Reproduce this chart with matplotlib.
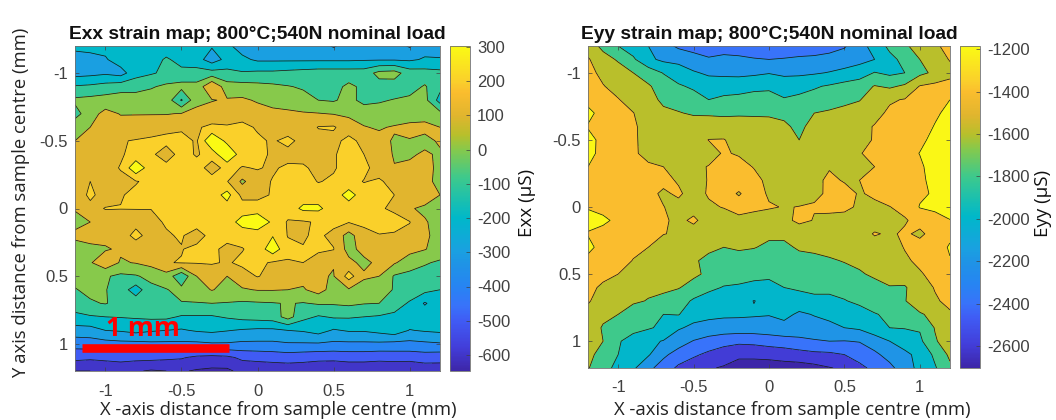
import numpy as np
import matplotlib
matplotlib.use('Agg')
import matplotlib.pyplot as plt
from matplotlib.cm import ScalarMappable
from matplotlib.colors import LinearSegmentedColormap, Normalize

# Posiciones de la malla (mm)
x_mm = [-1.2, -1.1, -1.0, -0.9, -0.8, -0.7, -0.6, -0.5, -0.4, -0.3, -0.2, -0.1, 0.0,
        0.1, 0.2, 0.3, 0.4, 0.5, 0.6, 0.7, 0.8, 0.9, 1.0, 1.1, 1.2]
y_mm = x_mm

exx = [
    [-170,-170,-170,-110,-160,-180,-190,-180,-180,-190,-180,-240,-240,-240,-250,-250,-260,-310,-260,-240,-240,-260,-310,-240,-230],
    [-250,-230,-210,-150,-160,-170,-80,-150,-160,-250,-170,-180,-215,-215,-215,-215,-215,-215,-215,-210,-210,-210,-215,-190,-195],
    [-240,-230,-215,-240,-140,-110,-80,-60,-60,-60,-70,-90,-80,-80,-70,-60,-50,-50,-50,-50,30,40,-50,-60,-70],
    [-90,-80,-60,-40,-30,-10,20,30,30,200,40,40,30,20,5,-10,-20,-30,20,-20,-40,-50,-40,10,-70],
    [20,30,40,50,40,50,60,-110,70,95,110,115,90,60,50,30,0,-10,30,-30,-10,5,20,30,-140],
    [-40,60,130,95,95,95,95,105,130,140,150,160,140,130,120,110,105,95,80,60,40,30,50,70,30],
    [70,100,130,140,150,160,170,185,190,220,210,225,190,170,150,140,205,210,150,105,90,110,125,120,100],
    [100,130,150,195,205,215,230,230,190,400,270,260,215,190,225,170,160,170,230,170,130,90,95,80,110],
    [130,150,170,190,230,220,150,240,190,240,400,240,220,190,170,150,140,190,240,200,160,90,90,110,90],
    [115,140,170,205,380,240,235,230,240,160,230,195,205,190,215,220,160,190,240,230,150,105,115,120,85],
    [120,200,150,180,195,220,240,240,240,240,205,80,170,205,230,240,195,215,240,195,215,160,140,110,90],
    [125,225,150,195,215,250,250,250,250,240,340,170,170,210,240,250,250,250,340,250,230,200,155,130,100],
    [105,165,205,202,202,202,230,250,250,250,250,250,250,250,250,320,320,250,250,250,210,185,105,90,80],
    [80,100,140,160,170,175,210,230,250,250,250,340,380,280,190,190,210,230,205,220,240,230,205,105,80],
    [115,130,130,150,230,160,190,210,150,240,240,240,240,295,195,190,220,170,60,170,195,190,160,110,80],
    [70,80,90,115,140,150,170,195,230,225,170,195,240,360,230,205,215,205,60,140,150,140,130,105,60],
    [60,90,170,90,105,130,195,205,205,210,190,220,220,190,190,200,160,105,130,70,130,110,50,10,-15],
    [30,30,10,-20,-10,30,60,-80,100,130,100,160,205,170,140,130,110,95,240,120,100,-10,-30,-40,-50],
    [-5,20,5,-50,-150,-30,-5,30,60,105,70,90,105,105,100,90,140,60,90,40,30,-5,-50,-70,-100],
    [-40,-10,5,-30,-40,-15,-5,-5,-5,0,-5,-15,-10,-5,5,-5,10,10,20,5,0,-60,-110,-210,-140],
    [-130,-110,-100,-95,-90,-80,-80,-110,-110,-110,-90,-70,-60,-50,40,-70,-110,-90,-90,-100,-110,-120,-130,-140,-150],
    [-240,-240,-200,-190,-170,-190,-200,-210,-190,-180,-195,-210,-220,-220,-200,-190,-160,-210,-190,-190,-170,-140,-205,-190,-180],
    [-360,-350,-340,-330,-330,-320,-320,-320,-320,-310,-310,-320,-320,-320,-310,-310,-310,-320,-320,-320,-320,-330,-330,-320,-310],
    [-470,-480,-470,-460,-470,-470,-480,-490,-520,-530,-520,-480,-470,-460,-450,-460,-470,-470,-460,-460,-470,-460,-460,-450,-460],
    [-600,-600,-590,-580,-590,-610,-600,-590,-610,-620,-620,-570,-570,-570,-570,-570,-580,-590,-580,-580,-580,-590,-600,-570,-560],
]

eyy = [
    [-1500,-1650,-1800,-1900,-2000,-2120,-2240,-2280,-2300,-2290,-2280,-2290,-2300,-2300,-2310,-2300,-2280,-2220,-2070,-1930,-1750,-1630,-1520,-1430,-1340],
    [-1380,-1530,-1620,-1770,-1960,-2040,-2040,-2120,-2180,-2150,-2170,-2190,-2200,-2190,-2170,-2160,-2130,-2100,-2060,-2000,-1860,-1740,-1600,-1480,-1390],
    [-1340,-1450,-1520,-1600,-1690,-1810,-1930,-1980,-2030,-2050,-2060,-2040,-2010,-2050,-2040,-2020,-1990,-1950,-1900,-1790,-1840,-1800,-1650,-1560,-1450],
    [-1300,-1390,-1470,-1530,-1580,-1680,-1770,-1840,-1900,-1870,-1860,-1840,-1830,-1860,-1860,-1820,-1780,-1730,-1690,-1590,-1630,-1570,-1390,-1350,-1340],
    [-1290,-1340,-1390,-1480,-1530,-1640,-1670,-1700,-1800,-1770,-1760,-1740,-1740,-1790,-1760,-1730,-1700,-1650,-1610,-1500,-1420,-1390,-1320,-1280,-1200],
    [-1120,-1310,-1340,-1395,-1500,-1560,-1590,-1620,-1620,-1625,-1620,-1620,-1620,-1640,-1650,-1600,-1570,-1540,-1510,-1450,-1370,-1320,-1280,-1230,-1150],
    [-1220,-1310,-1340,-1370,-1480,-1500,-1510,-1510,-1520,-1530,-1530,-1540,-1550,-1570,-1640,-1540,-1500,-1490,-1450,-1390,-1330,-1300,-1280,-1190,-1100],
    [-1110,-1280,-1320,-1370,-1470,-1480,-1490,-1480,-1395,-1390,-1480,-1510,-1530,-1560,-1600,-1530,-1500,-1480,-1440,-1390,-1320,-1290,-1240,-1150,-1090],
    [-1100,-1300,-1330,-1380,-1440,-1470,-1480,-1470,-1480,-1380,-1420,-1490,-1510,-1530,-1540,-1520,-1490,-1460,-1410,-1350,-1310,-1270,-1195,-1110,-1080],
    [-1200,-1300,-1320,-1340,-1380,-1400,-1470,-1450,-1390,-1350,-1330,-1410,-1480,-1500,-1510,-1490,-1420,-1460,-1440,-1400,-1300,-1270,-1230,-1120,-1080],
    [-1290,-1300,-1310,-1320,-1340,-1350,-1420,-1470,-1390,-1300,-1290,-1340,-1450,-1480,-1490,-1470,-1350,-1420,-1400,-1330,-1300,-1280,-1240,-1140,-1090],
    [-1310,-1320,-1330,-1340,-1350,-1430,-1370,-1480,-1380,-1310,-1420,-1290,-1430,-1460,-1480,-1420,-1385,-1320,-1420,-1360,-1310,-1270,-1230,-1180,-1100],
    [-1220,-1310,-1320,-1330,-1350,-1395,-1460,-1480,-1430,-1390,-1300,-1350,-1380,-1410,-1395,-1390,-1330,-1340,-1440,-1450,-1405,-1340,-1190,-1150,-1130],
    [-1110,-1130,-1280,-1320,-1350,-1370,-1450,-1360,-1500,-1500,-1470,-1490,-1510,-1460,-1350,-1410,-1480,-1500,-1530,-1520,-1480,-1420,-1330,-1290,-1205],
    [-1220,-1320,-1330,-1350,-1370,-1395,-1420,-1500,-1540,-1540,-1540,-1560,-1560,-1550,-1540,-1530,-1520,-1510,-1510,-1380,-1430,-1370,-1440,-1320,-1240],
    [-1100,-1340,-1350,-1370,-1400,-1480,-1560,-1570,-1550,-1600,-1570,-1590,-1640,-1650,-1570,-1550,-1540,-1530,-1520,-1510,-1480,-1390,-1320,-1290,-1180],
    [-1300,-1340,-1350,-1405,-1470,-1510,-1540,-1570,-1660,-1680,-1690,-1700,-1700,-1690,-1680,-1660,-1620,-1590,-1560,-1540,-1500,-1430,-1360,-1320,-1210],
    [-1330,-1370,-1400,-1470,-1520,-1560,-1580,-1570,-1630,-1720,-1740,-1770,-1780,-1770,-1750,-1730,-1700,-1660,-1620,-1570,-1530,-1490,-1420,-1340,-1300],
    [-1370,-1420,-1480,-1520,-1560,-1570,-1590,-1660,-1760,-1810,-1820,-1830,-1830,-1800,-1770,-1790,-1760,-1730,-1700,-1660,-1610,-1620,-1480,-1390,-1340],
    [-1385,-1470,-1540,-1570,-1610,-1640,-1700,-1830,-1880,-1900,-1920,-2005,-1950,-1920,-1890,-1810,-1840,-1810,-1760,-1720,-1680,-1610,-1490,-1420,-1360],
    [-1450,-1550,-1600,-1700,-1750,-1800,-1790,-1930,-1960,-1970,-1970,-1980,-1990,-1950,-2030,-1990,-1970,-1930,-1880,-1810,-1770,-1700,-1620,-1550,-1420],
    [-1480,-1620,-1680,-1740,-1780,-1840,-1980,-2040,-2060,-2080,-2090,-2090,-2090,-2060,-2080,-2070,-2030,-2000,-1970,-1880,-1800,-1790,-1780,-1590,-1450],
    [-1520,-1600,-1780,-1880,-1960,-2010,-2110,-2210,-2280,-2330,-2350,-2340,-2300,-2280,-2250,-2220,-2200,-2205,-2190,-2100,-2000,-1920,-1840,-1620,-1500],
    [-1550,-1670,-1800,-1950,-1980,-2160,-2280,-2370,-2440,-2500,-2570,-2560,-2550,-2520,-2480,-2450,-2440,-2400,-2320,-2240,-2130,-2040,-1950,-1760,-1560],
    [-1590,-1700,-1880,-1970,-2150,-2290,-2440,-2510,-2580,-2620,-2660,-2680,-2680,-2680,-2690,-2660,-2610,-2570,-2450,-2350,-2250,-2100,-1940,-1820,-1640],
]

exx_levels = [-600, -500, -400, -300, -200, -100, 0, 100, 200, 300]
eyy_levels = [-2600, -2400, -2200, -2000, -1800, -1600, -1400, -1200]
exx_ticks = [-600, -500, -400, -300, -200, -100, 0, 100, 200, 300]
eyy_ticks = [-2600, -2400, -2200, -2000, -1800, -1600, -1400, -1200]
axis_ticks = [-1, -0.5, 0, 0.5, 1]
axis_labels = ['-1', '-0.5', '0', '0.5', '1']

# parula aproximado
parula = LinearSegmentedColormap.from_list('parula', [
    (0.0, (.24, .15, .66)), (.07, (.26, .24, .85)), (.155, (.25, .36, .96)),
    (.20, (.22, .45, .98)), (.26, (.15, .52, .95)), (.33, (.12, .58, .90)),
    (.37, (.10, .63, .88)), (.47, (.0, .72, .79)), (.595, (.24, .79, .55)),
    (.68, (.52, .79, .30)), (.727, (.72, .75, .17)), (.786, (.88, .71, .18)),
    (.858, (.98, .74, .18)), (.89, (.98, .81, .17)), (1.0, (.98, .98, .08))])

W, H = 1056, 420
GREY = '#404040'
label_font = ['Open Sans', 'DejaVu Sans']
plt.rcParams['font.family'] = ['Liberation Sans', 'DejaVu Sans']

fig = plt.figure(figsize=(W / 100, H / 100), dpi=100)


def box(x0, y0, x1, y1):
    return [x0 / W, 1 - y1 / H, (x1 - x0) / W, (y1 - y0) / H]


def strain_map(pos, cpos, z, levels, vmin, vmax, ticks, title, clabel, clabel_x):
    ax = fig.add_axes(box(*pos))
    bounds = [vmin - 100] + levels + [vmax + 400]
    norm = Normalize(vmin, vmax)
    colors = [parula(norm(vmin))] + [parula(norm(v)) for v in levels]
    ax.contourf(x_mm, y_mm, z, levels=bounds, colors=colors)
    ax.contour(x_mm, y_mm, z, levels=levels, colors='#1a1a1a', linewidths=0.55,
               linestyles='solid')
    ax.set_xlim(-1.2, 1.2)
    ax.set_ylim(1.2, -1.2)
    ax.set_xticks(axis_ticks, axis_labels)
    ax.set_yticks(axis_ticks, axis_labels)
    ax.tick_params(direction='in', top=True, right=True, length=3, width=0.5,
                   color=GREY, labelcolor=GREY, labelsize=12, pad=5)
    ax.tick_params(axis='x', pad=9)
    for s in ax.spines.values():
        s.set_color('#707070')
        s.set_linewidth(0.6)
    ax.set_title(title, fontsize=13.8, fontweight='bold', color='#111111', pad=5)

    cax = fig.add_axes(box(*cpos))
    cb = fig.colorbar(ScalarMappable(norm=norm, cmap=parula), cax=cax)
    cb.set_ticks(ticks)
    cb.ax.set_yticklabels([str(t) for t in ticks])
    cb.ax.tick_params(direction='in', length=3, width=0.5, color=GREY,
                      labelcolor=GREY, labelsize=12, pad=5)
    cb.outline.set_edgecolor('#707070')
    cb.outline.set_linewidth(0.6)
    fig.text(clabel_x / W, 1 - 203 / H, clabel, rotation=90, ha='center', va='center',
             fontsize=13.5, color='#111111', family=label_font)
    return ax


ax1 = strain_map((75, 46, 440, 371), (450, 46, 470, 371), exx, exx_levels, -647, 303,
                 exx_ticks, 'Exx strain map; 800°C;540N nominal load', 'Exx (µS)', 527)
ax2 = strain_map((588, 46, 950, 368), (960, 46, 980, 368), eyy, eyy_levels, -2703, -1185,
                 eyy_ticks, 'Eyy strain map; 800°C;540N nominal load', 'Eyy (µS)', 1043)

# Barra de escala
ax1.plot([-1.154, -0.187], [1.027, 1.027], color='#ff0000', lw=6.2, solid_capstyle='butt')
ax1.text(-0.753, 0.94, '1 mm', color='#ff0000', fontsize=19, fontweight='bold',
         ha='center', va='baseline', family=label_font)

# Rotulos pegados encima
fig.text(278 / W, 1 - 410 / H, 'X -axis distance from sample centre (mm)', ha='center', va='center',
         fontsize=13.3, color='#222222', family=label_font)
fig.text(792 / W, 1 - 410 / H, 'X -axis distance from sample centre (mm)', ha='center', va='center',
         fontsize=13.3, color='#222222', family=label_font)
fig.text(21 / W, 1 - 203 / H, 'Y axis distance from sample centre (mm)', rotation=90, ha='center',
         va='center', fontsize=13.3, color='#222222', family=label_font)

fig.savefig('out.png', dpi=100)
